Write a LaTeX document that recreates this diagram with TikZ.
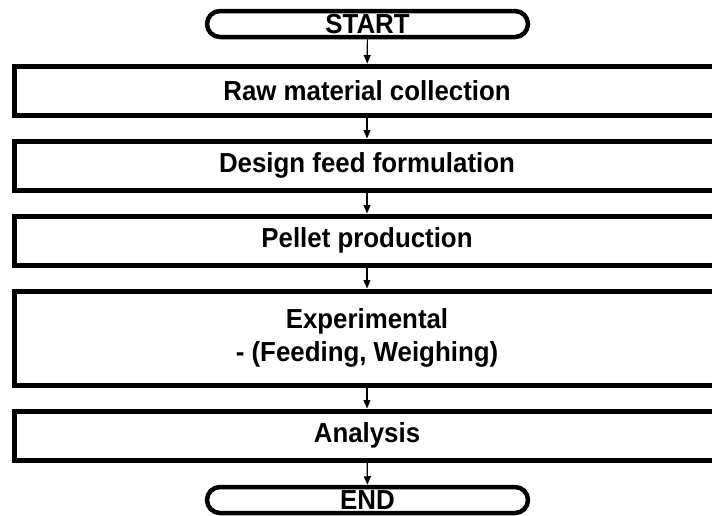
\documentclass[tikz,border=0pt]{standalone}
\usepackage{fontspec}
\setmainfont{Liberation Sans}[FakeStretch=0.94]
\usetikzlibrary{arrows.meta}

\tikzset{
  stepbox/.style={draw=black, line width=5pt, rectangle, minimum width=706pt,
    inner sep=0pt, align=center, font=\fontsize{27.5}{33}\selectfont\bfseries},
  terminal/.style={draw=black, line width=4.5pt, rectangle, rounded corners=13pt,
    minimum width=321pt, minimum height=26pt, inner sep=0pt,
    font=\fontsize{27.5}{30}\selectfont\bfseries},
  flow/.style={draw=black, line width=1.2pt, -{Triangle[length=8.5pt,width=7pt]}}
}

\begin{document}
\begin{tikzpicture}[x=1pt,y=-1pt]
  \useasboundingbox (0,0) rectangle (712,515);
  \fill[white] (0,0) rectangle (712,515);
  \clip (0,0) rectangle (712,515);

  \node[terminal] (start) at (367.5,24) {START};
  \node[stepbox, minimum height=49pt] (raw) at (367,90.5) {Raw material collection};
  \node[stepbox, minimum height=49pt] (design) at (367,165.5) {Design feed formulation};
  \node[stepbox, minimum height=49pt] (pellet) at (367,240.5) {Pellet production};
  \node[stepbox, minimum height=94pt] (exp) at (367,338) {Experimental\\- (Feeding, Weighing)};
  \node[stepbox, minimum height=49pt] (analysis) at (367,435.5) {Analysis};
  \node[terminal] (end) at (367.5,500) {END};

  \draw[flow] (start) -- (raw);
  \draw[flow] (raw) -- (design);
  \draw[flow] (design) -- (pellet);
  \draw[flow] (pellet) -- (exp);
  \draw[flow] (exp) -- (analysis);
  \draw[flow] (analysis) -- (end);
\end{tikzpicture}
\end{document}
